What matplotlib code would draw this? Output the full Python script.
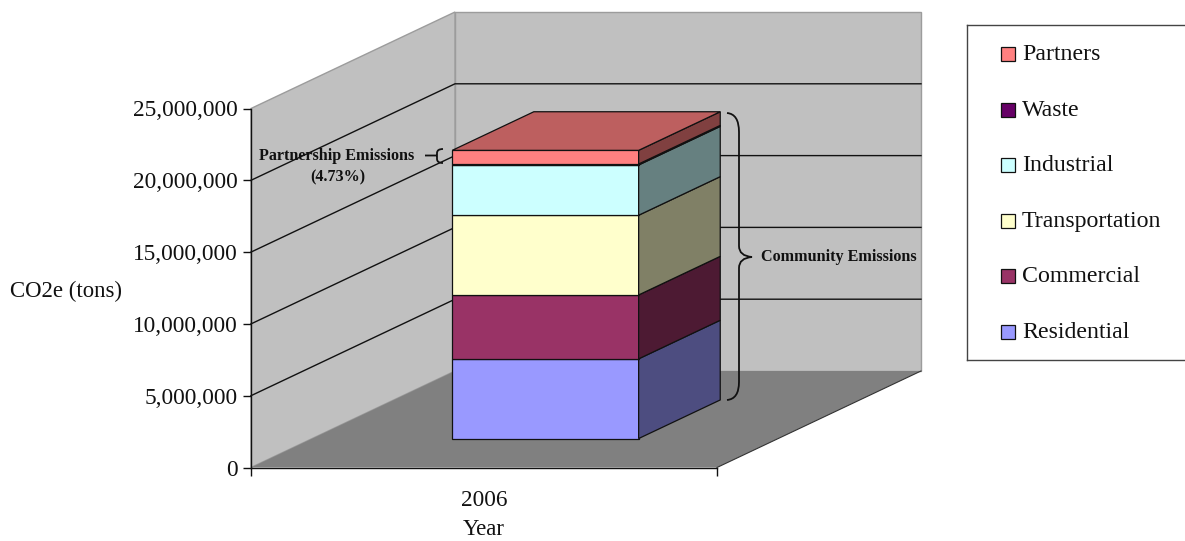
"""Stacked 3-D style column of 2006 CO2e emissions by sector."""

import matplotlib
matplotlib.use("Agg")  # headless, must precede pyplot import
import matplotlib.pyplot as plt
from matplotlib.patches import PathPatch, Polygon, Rectangle
from matplotlib.path import Path
from matplotlib.ticker import FuncFormatter
from matplotlib.transforms import Affine2D

# ---------------------------------------------------------------------------
# Data (bottom of the stack first)
# ---------------------------------------------------------------------------

years = ["2006"]
sectors = ["Residential", "Commercial", "Transportation", "Industrial", "Waste", "Partners"]
emissions = [5550000, 4450000, 5550000, 3500000, 70000, 950000]
y_ticks = [0, 5000000, 10000000, 15000000, 20000000, 25000000]

# ---------------------------------------------------------------------------
# Palette
# ---------------------------------------------------------------------------

_COLORS = ["#9999FF", "#993366", "#FFFFCC", "#CCFFFF", "#660066", "#FF8080"]
_WALL = "#C0C0C0"
_FLOOR = "#808080"
_WALL_EDGE = "#9C9C9C"
_SERIF = "Liberation Serif"

W, H = 1185, 541

# Oblique projection: full depth shifts a point by this much in data units.
DEPTH_X = 204 / 466
DEPTH_Y = 96.5 / 359 * y_ticks[-1]
BAR_X = (0.3005, 0.7005)
BAR_DEPTH = (0.3, 0.7)


def _project(x, value, depth=0.0):
    return (x + depth * DEPTH_X, value + depth * DEPTH_Y)


def _shade(color, factor):
    rgb = matplotlib.colors.to_rgb(color)
    return tuple(c * factor for c in rgb)


def _draw_box(ax):
    """Back wall, left wall, floor and the gridlines running across the walls."""
    top = y_ticks[-1]
    ax.add_patch(Polygon(
        [_project(0, 0, 1), _project(1, 0, 1), _project(1, top, 1), _project(0, top, 1)],
        facecolor=_WALL, edgecolor=_WALL_EDGE, linewidth=1, clip_on=False, zorder=1,
    ))
    ax.add_patch(Polygon(
        [_project(0, 0, 0), _project(0, 0, 1), _project(0, top, 1), _project(0, top, 0)],
        facecolor=_WALL, edgecolor=_WALL_EDGE, linewidth=1, clip_on=False, zorder=1,
    ))
    ax.add_patch(Polygon(
        [_project(0, 0, 0), _project(1, 0, 0), _project(1, 0, 1), _project(0, 0, 1)],
        facecolor=_FLOOR, edgecolor="none", clip_on=False, zorder=1.5,
    ))
    ax.plot(*zip(_project(1, 0, 0), _project(1, 0, 1)), color="#333333",
            linewidth=0.8, clip_on=False, zorder=1.6)

    for value in y_ticks[1:-1]:
        pts = [_project(0, value, 0), _project(0, value, 1), _project(1, value, 1)]
        ax.plot(*zip(*pts), color="#111111", linewidth=1.0, clip_on=False, zorder=2)


def _draw_stack(ax):
    """One stacked column: front, side and top faces per segment."""
    x0, x1 = BAR_X
    d0, d1 = BAR_DEPTH
    base = 0
    style = dict(edgecolor="#111111", linewidth=0.9, joinstyle="miter", clip_on=False, zorder=3)
    for value, color in zip(emissions, _COLORS):
        top = base + value
        ax.add_patch(Polygon(
            [_project(x0, base, d0), _project(x1, base, d0), _project(x1, top, d0), _project(x0, top, d0)],
            facecolor=color, **style,
        ))
        ax.add_patch(Polygon(
            [_project(x1, base, d0), _project(x1, base, d1), _project(x1, top, d1), _project(x1, top, d0)],
            facecolor=_shade(color, 0.5), **style,
        ))
        base = top
    # Only the uppermost segment shows its top face.
    ax.add_patch(Polygon(
        [_project(x0, base, d0), _project(x1, base, d0), _project(x1, base, d1), _project(x0, base, d1)],
        facecolor=_shade(_COLORS[-1], 0.74), **style,
    ))


def _draw_legend(fig):
    """Framed key, newest sector on top; the frame runs off the right edge."""
    x0, y0, x1, y1 = 967, 25, 1200, 360
    lax = fig.add_axes([x0 / W, 1 - y1 / H, (x1 - x0) / W, (y1 - y0) / H])
    lax.set_xlim(x0, x1)
    lax.set_ylim(y1, y0)
    lax.set_xticks([])
    lax.set_yticks([])
    for spine in lax.spines.values():
        spine.set_color("#444444")
        spine.set_linewidth(1.0)
    for i, (name, color) in enumerate(zip(sectors[::-1], _COLORS[::-1])):
        y = 54 + i * 55.6
        lax.add_patch(Rectangle((1001, y - 7), 14, 14, facecolor=color, edgecolor="#111111", linewidth=0.9))
        lax.text(1022, y + 0.5, name, fontsize=17.2, family=_SERIF, color="#111111", va="center", ha="left")


def _draw_braces(fig):
    """Hand-placed callout braces, given in pixels from the top-left corner."""
    to_px = Affine2D().scale(1, -1).translate(0, H)
    M, L, C = Path.MOVETO, Path.LINETO, Path.CURVE3
    community = Path(
        [(727, 113), (739, 114), (739, 132), (739, 246), (739, 256), (752, 257),
         (739, 258), (739, 268), (739, 382), (739, 399), (727, 400)],
        [M, C, C, L, C, C, C, C, L, C, C],
    )
    partnership = Path(
        [(425, 155.5), (437, 155.5), (443, 149), (437, 149), (437, 153), (437, 159),
         (437, 163), (443, 163)],
        [M, L, M, C, C, L, C, C],
    )
    for path in (community, partnership):
        fig.add_artist(PathPatch(path, facecolor="none", edgecolor="#111111", linewidth=1.3, transform=to_px))
    return to_px


fig = plt.figure(figsize=(W / 100, H / 100), dpi=100, facecolor="white")
ax = fig.add_axes([251 / W, 1 - 467.5 / H, 466 / W, 359 / H])
ax.set_xlim(0, 1)
ax.set_ylim(0, y_ticks[-1])
ax.patch.set_visible(False)

_draw_box(ax)
_draw_stack(ax)

for side in ("top", "right"):
    ax.spines[side].set_visible(False)
for side in ("left", "bottom"):
    ax.spines[side].set_linewidth(1.0)
    ax.spines[side].set_color("#111111")
    ax.spines[side].set_zorder(4)

ax.set_yticks(y_ticks)
ax.yaxis.set_major_formatter(FuncFormatter(lambda v, _: f"{int(v):,}"))
ax.set_xticks([0, 1], labels=["", ""])
ax.set_xticks([0.5], labels=years, minor=True)
ax.tick_params(axis="both", which="major", length=5.8, width=1.0, color="#111111", pad=4)
ax.tick_params(axis="x", which="minor", length=0, pad=16)
for label in ax.get_yticklabels() + ax.get_xticklabels(minor=True):
    label.set_family(_SERIF)
    label.set_fontsize(16.8)
    label.set_color("#111111")

ax.set_xlabel("Year", family=_SERIF, fontsize=16.4, color="#111111", va="center")
ax.xaxis.set_label_coords(0.5, -0.172)
ax.set_ylabel("CO2e (tons)", family=_SERIF, fontsize=16.4, color="#111111",
              rotation=0, ha="center", va="center")
ax.yaxis.set_label_coords(-0.397, 0.49)

_draw_legend(fig)
px = _draw_braces(fig)

note = dict(family=_SERIF, weight="bold", fontsize=11.6, color="#111111", ha="center", va="center", transform=px)
fig.text(337, 155.5, "Partnership Emissions", **note)
fig.text(338, 177, "(4.73%)", **note)
fig.text(839, 257, "Community Emissions", **note)

fig.savefig("out.png", dpi=100)
plt.close(fig)
